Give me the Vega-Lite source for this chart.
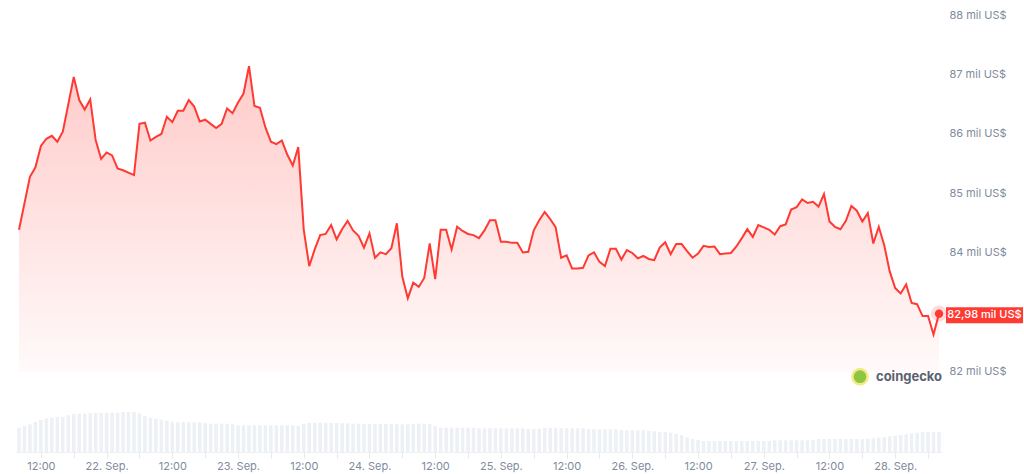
{
  "$schema": "https://vega.github.io/schema/vega-lite/v6.json",
  "width": 926,
  "height": 437,
  "autosize": "none",
  "padding": {"left": 16, "top": 15, "right": 82, "bottom": 22},
  "background": "white",
  "config": {"view": {"stroke": null}, "font": "Inter"},
  "datasets": {
    "price": [
      {"t": "2025-09-21T08:00", "p": 84390}, {"t": "2025-09-21T10:00", "p": 85280}, {"t": "2025-09-21T11:00", "p": 85440}, {"t": "2025-09-21T12:00", "p": 85800}, {"t": "2025-09-21T13:00", "p": 85920}, {"t": "2025-09-21T14:00", "p": 85970}, {"t": "2025-09-21T15:00", "p": 85870}, {"t": "2025-09-21T16:00", "p": 86040}, {"t": "2025-09-21T18:00", "p": 86960}, {"t": "2025-09-21T19:00", "p": 86570}, {"t": "2025-09-21T20:00", "p": 86410}, {"t": "2025-09-21T21:00", "p": 86580}, {"t": "2025-09-21T22:00", "p": 85900}, {"t": "2025-09-21T23:00", "p": 85580},
      {"t": "2025-09-22T00:00", "p": 85690}, {"t": "2025-09-22T01:00", "p": 85640}, {"t": "2025-09-22T02:00", "p": 85420}, {"t": "2025-09-22T03:00", "p": 85390}, {"t": "2025-09-22T05:00", "p": 85310}, {"t": "2025-09-22T06:00", "p": 86170}, {"t": "2025-09-22T07:00", "p": 86190}, {"t": "2025-09-22T08:00", "p": 85890}, {"t": "2025-09-22T09:00", "p": 85950}, {"t": "2025-09-22T10:00", "p": 86000}, {"t": "2025-09-22T11:00", "p": 86290}, {"t": "2025-09-22T12:00", "p": 86200}, {"t": "2025-09-22T13:00", "p": 86390}, {"t": "2025-09-22T14:00", "p": 86390}, {"t": "2025-09-22T15:00", "p": 86570}, {"t": "2025-09-22T16:00", "p": 86460}, {"t": "2025-09-22T17:00", "p": 86210}, {"t": "2025-09-22T18:00", "p": 86240}, {"t": "2025-09-22T19:00", "p": 86170}, {"t": "2025-09-22T20:00", "p": 86100}, {"t": "2025-09-22T21:00", "p": 86170}, {"t": "2025-09-22T22:00", "p": 86430}, {"t": "2025-09-22T23:00", "p": 86350},
      {"t": "2025-09-23T00:00", "p": 86530}, {"t": "2025-09-23T01:00", "p": 86680}, {"t": "2025-09-23T02:00", "p": 87140}, {"t": "2025-09-23T03:00", "p": 86470}, {"t": "2025-09-23T04:00", "p": 86440}, {"t": "2025-09-23T05:00", "p": 86110}, {"t": "2025-09-23T06:00", "p": 85870}, {"t": "2025-09-23T07:00", "p": 85830}, {"t": "2025-09-23T08:00", "p": 85890}, {"t": "2025-09-23T09:00", "p": 85650}, {"t": "2025-09-23T10:00", "p": 85470}, {"t": "2025-09-23T11:00", "p": 85780}, {"t": "2025-09-23T12:00", "p": 84390}, {"t": "2025-09-23T13:00", "p": 83780}, {"t": "2025-09-23T14:00", "p": 84060}, {"t": "2025-09-23T15:00", "p": 84300}, {"t": "2025-09-23T16:00", "p": 84320}, {"t": "2025-09-23T17:00", "p": 84470}, {"t": "2025-09-23T18:00", "p": 84230}, {"t": "2025-09-23T19:00", "p": 84400}, {"t": "2025-09-23T20:00", "p": 84540}, {"t": "2025-09-23T21:00", "p": 84380}, {"t": "2025-09-23T22:00", "p": 84290}, {"t": "2025-09-23T23:00", "p": 84090},
      {"t": "2025-09-24T00:00", "p": 84330}, {"t": "2025-09-24T01:00", "p": 83920}, {"t": "2025-09-24T02:00", "p": 84010}, {"t": "2025-09-24T03:00", "p": 83980}, {"t": "2025-09-24T04:00", "p": 84080}, {"t": "2025-09-24T05:00", "p": 84500}, {"t": "2025-09-24T06:00", "p": 83600}, {"t": "2025-09-24T07:00", "p": 83240}, {"t": "2025-09-24T08:00", "p": 83500}, {"t": "2025-09-24T09:00", "p": 83430}, {"t": "2025-09-24T10:00", "p": 83580}, {"t": "2025-09-24T11:00", "p": 84160}, {"t": "2025-09-24T12:00", "p": 83560}, {"t": "2025-09-24T13:00", "p": 84390}, {"t": "2025-09-24T14:00", "p": 84390}, {"t": "2025-09-24T15:00", "p": 84060}, {"t": "2025-09-24T16:00", "p": 84440}, {"t": "2025-09-24T17:00", "p": 84370}, {"t": "2025-09-24T18:00", "p": 84320}, {"t": "2025-09-24T19:00", "p": 84300}, {"t": "2025-09-24T20:00", "p": 84250}, {"t": "2025-09-24T21:00", "p": 84380}, {"t": "2025-09-24T22:00", "p": 84550}, {"t": "2025-09-24T23:00", "p": 84550},
      {"t": "2025-09-25T00:00", "p": 84190}, {"t": "2025-09-25T01:00", "p": 84190}, {"t": "2025-09-25T02:00", "p": 84170}, {"t": "2025-09-25T03:00", "p": 84170}, {"t": "2025-09-25T04:00", "p": 84010}, {"t": "2025-09-25T05:00", "p": 84020}, {"t": "2025-09-25T06:00", "p": 84380}, {"t": "2025-09-25T07:00", "p": 84550}, {"t": "2025-09-25T08:00", "p": 84690}, {"t": "2025-09-25T09:00", "p": 84570}, {"t": "2025-09-25T10:00", "p": 84430}, {"t": "2025-09-25T11:00", "p": 83920}, {"t": "2025-09-25T12:00", "p": 83960}, {"t": "2025-09-25T13:00", "p": 83740}, {"t": "2025-09-25T14:00", "p": 83740}, {"t": "2025-09-25T15:00", "p": 83750}, {"t": "2025-09-25T16:00", "p": 83960}, {"t": "2025-09-25T17:00", "p": 84010}, {"t": "2025-09-25T18:00", "p": 83850}, {"t": "2025-09-25T19:00", "p": 83780}, {"t": "2025-09-25T20:00", "p": 84070}, {"t": "2025-09-25T21:00", "p": 84070}, {"t": "2025-09-25T22:00", "p": 83890}, {"t": "2025-09-25T23:00", "p": 84050},
      {"t": "2025-09-26T00:00", "p": 84000}, {"t": "2025-09-26T01:00", "p": 83910}, {"t": "2025-09-26T02:00", "p": 83950}, {"t": "2025-09-26T03:00", "p": 83900}, {"t": "2025-09-26T04:00", "p": 83880}, {"t": "2025-09-26T05:00", "p": 84090}, {"t": "2025-09-26T06:00", "p": 84180}, {"t": "2025-09-26T07:00", "p": 83980}, {"t": "2025-09-26T08:00", "p": 84150}, {"t": "2025-09-26T09:00", "p": 84150}, {"t": "2025-09-26T10:00", "p": 84030}, {"t": "2025-09-26T11:00", "p": 83920}, {"t": "2025-09-26T12:00", "p": 83990}, {"t": "2025-09-26T13:00", "p": 84120}, {"t": "2025-09-26T14:00", "p": 84100}, {"t": "2025-09-26T15:00", "p": 84110}, {"t": "2025-09-26T16:00", "p": 83980}, {"t": "2025-09-26T17:00", "p": 83990}, {"t": "2025-09-26T18:00", "p": 84000}, {"t": "2025-09-26T19:00", "p": 84110}, {"t": "2025-09-26T20:00", "p": 84250}, {"t": "2025-09-26T21:00", "p": 84400}, {"t": "2025-09-26T22:00", "p": 84270}, {"t": "2025-09-26T23:00", "p": 84470},
      {"t": "2025-09-27T00:00", "p": 84430}, {"t": "2025-09-27T01:00", "p": 84390}, {"t": "2025-09-27T02:00", "p": 84310}, {"t": "2025-09-27T03:00", "p": 84450}, {"t": "2025-09-27T04:00", "p": 84480}, {"t": "2025-09-27T05:00", "p": 84730}, {"t": "2025-09-27T06:00", "p": 84770}, {"t": "2025-09-27T07:00", "p": 84900}, {"t": "2025-09-27T08:00", "p": 84840}, {"t": "2025-09-27T09:00", "p": 84860}, {"t": "2025-09-27T10:00", "p": 84780}, {"t": "2025-09-27T11:00", "p": 84990}, {"t": "2025-09-27T12:00", "p": 84530}, {"t": "2025-09-27T13:00", "p": 84440}, {"t": "2025-09-27T14:00", "p": 84400}, {"t": "2025-09-27T15:00", "p": 84540}, {"t": "2025-09-27T16:00", "p": 84790}, {"t": "2025-09-27T17:00", "p": 84710}, {"t": "2025-09-27T18:00", "p": 84530}, {"t": "2025-09-27T19:00", "p": 84670}, {"t": "2025-09-27T20:00", "p": 84160}, {"t": "2025-09-27T21:00", "p": 84440}, {"t": "2025-09-27T22:00", "p": 84130}, {"t": "2025-09-27T23:00", "p": 83690},
      {"t": "2025-09-28T00:00", "p": 83410}, {"t": "2025-09-28T01:00", "p": 83320}, {"t": "2025-09-28T02:00", "p": 83470}, {"t": "2025-09-28T03:00", "p": 83160}, {"t": "2025-09-28T04:00", "p": 83140}, {"t": "2025-09-28T05:00", "p": 82940}, {"t": "2025-09-28T06:00", "p": 82940}, {"t": "2025-09-28T07:00", "p": 82630}, {"t": "2025-09-28T08:00", "p": 82980}
    ],
    "volume": [
      {"t": "2025-09-21T08:00", "v": 24.3}, {"t": "2025-09-21T09:00", "v": 25.7}, {"t": "2025-09-21T10:00", "v": 27.7}, {"t": "2025-09-21T11:00", "v": 30}, {"t": "2025-09-21T12:00", "v": 32}, {"t": "2025-09-21T13:00", "v": 33.5}, {"t": "2025-09-21T14:00", "v": 34.3}, {"t": "2025-09-21T15:00", "v": 35}, {"t": "2025-09-21T16:00", "v": 35.3}, {"t": "2025-09-21T17:00", "v": 36.7}, {"t": "2025-09-21T18:00", "v": 38}, {"t": "2025-09-21T19:00", "v": 38.3}, {"t": "2025-09-21T20:00", "v": 38.3}, {"t": "2025-09-21T21:00", "v": 39}, {"t": "2025-09-21T22:00", "v": 39}, {"t": "2025-09-21T23:00", "v": 39},
      {"t": "2025-09-22T00:00", "v": 39.3}, {"t": "2025-09-22T01:00", "v": 39.3}, {"t": "2025-09-22T02:00", "v": 39.3}, {"t": "2025-09-22T03:00", "v": 40}, {"t": "2025-09-22T04:00", "v": 40}, {"t": "2025-09-22T05:00", "v": 40}, {"t": "2025-09-22T06:00", "v": 38.5}, {"t": "2025-09-22T07:00", "v": 36}, {"t": "2025-09-22T08:00", "v": 34.3}, {"t": "2025-09-22T09:00", "v": 33.3}, {"t": "2025-09-22T10:00", "v": 32.3}, {"t": "2025-09-22T11:00", "v": 31.3}, {"t": "2025-09-22T12:00", "v": 30.3}, {"t": "2025-09-22T13:00", "v": 29.7}, {"t": "2025-09-22T14:00", "v": 29.7}, {"t": "2025-09-22T15:00", "v": 29.7}, {"t": "2025-09-22T16:00", "v": 29.7}, {"t": "2025-09-22T17:00", "v": 29.7}, {"t": "2025-09-22T18:00", "v": 29}, {"t": "2025-09-22T19:00", "v": 28.3}, {"t": "2025-09-22T20:00", "v": 28.3}, {"t": "2025-09-22T21:00", "v": 28.3}, {"t": "2025-09-22T22:00", "v": 28.3}, {"t": "2025-09-22T23:00", "v": 27.7},
      {"t": "2025-09-23T00:00", "v": 26.7}, {"t": "2025-09-23T01:00", "v": 26.7}, {"t": "2025-09-23T02:00", "v": 26.7}, {"t": "2025-09-23T03:00", "v": 26.7}, {"t": "2025-09-23T04:00", "v": 26.7}, {"t": "2025-09-23T05:00", "v": 26.7}, {"t": "2025-09-23T06:00", "v": 26.7}, {"t": "2025-09-23T07:00", "v": 26.7}, {"t": "2025-09-23T08:00", "v": 26.7}, {"t": "2025-09-23T09:00", "v": 26.7}, {"t": "2025-09-23T10:00", "v": 26.7}, {"t": "2025-09-23T11:00", "v": 26}, {"t": "2025-09-23T12:00", "v": 28.3}, {"t": "2025-09-23T13:00", "v": 29}, {"t": "2025-09-23T14:00", "v": 29.3}, {"t": "2025-09-23T15:00", "v": 29.3}, {"t": "2025-09-23T16:00", "v": 29.3}, {"t": "2025-09-23T17:00", "v": 29}, {"t": "2025-09-23T18:00", "v": 29}, {"t": "2025-09-23T19:00", "v": 28.7}, {"t": "2025-09-23T20:00", "v": 28.7}, {"t": "2025-09-23T21:00", "v": 28.3}, {"t": "2025-09-23T22:00", "v": 28.3}, {"t": "2025-09-23T23:00", "v": 28},
      {"t": "2025-09-24T00:00", "v": 28}, {"t": "2025-09-24T01:00", "v": 28}, {"t": "2025-09-24T02:00", "v": 28}, {"t": "2025-09-24T03:00", "v": 28}, {"t": "2025-09-24T04:00", "v": 28}, {"t": "2025-09-24T05:00", "v": 27.7}, {"t": "2025-09-24T06:00", "v": 27.7}, {"t": "2025-09-24T07:00", "v": 27.7}, {"t": "2025-09-24T08:00", "v": 28.3}, {"t": "2025-09-24T09:00", "v": 28.3}, {"t": "2025-09-24T10:00", "v": 28.3}, {"t": "2025-09-24T11:00", "v": 27.7}, {"t": "2025-09-24T12:00", "v": 25.7}, {"t": "2025-09-24T13:00", "v": 24.3}, {"t": "2025-09-24T14:00", "v": 24.3}, {"t": "2025-09-24T15:00", "v": 24.3}, {"t": "2025-09-24T16:00", "v": 24.3}, {"t": "2025-09-24T17:00", "v": 24.3}, {"t": "2025-09-24T18:00", "v": 24.3}, {"t": "2025-09-24T19:00", "v": 24.3}, {"t": "2025-09-24T20:00", "v": 23.7}, {"t": "2025-09-24T21:00", "v": 23.7}, {"t": "2025-09-24T22:00", "v": 23.7}, {"t": "2025-09-24T23:00", "v": 23.7},
      {"t": "2025-09-25T00:00", "v": 23.7}, {"t": "2025-09-25T01:00", "v": 23.7}, {"t": "2025-09-25T02:00", "v": 23.7}, {"t": "2025-09-25T03:00", "v": 23.7}, {"t": "2025-09-25T04:00", "v": 23.7}, {"t": "2025-09-25T05:00", "v": 23}, {"t": "2025-09-25T06:00", "v": 23}, {"t": "2025-09-25T07:00", "v": 23}, {"t": "2025-09-25T08:00", "v": 24}, {"t": "2025-09-25T09:00", "v": 24.3}, {"t": "2025-09-25T10:00", "v": 24.3}, {"t": "2025-09-25T11:00", "v": 23.7}, {"t": "2025-09-25T12:00", "v": 23.7}, {"t": "2025-09-25T13:00", "v": 23.7}, {"t": "2025-09-25T14:00", "v": 23.7}, {"t": "2025-09-25T15:00", "v": 23.7}, {"t": "2025-09-25T16:00", "v": 23}, {"t": "2025-09-25T17:00", "v": 22.7}, {"t": "2025-09-25T18:00", "v": 22.7}, {"t": "2025-09-25T19:00", "v": 22.7}, {"t": "2025-09-25T20:00", "v": 22.7}, {"t": "2025-09-25T21:00", "v": 22.7}, {"t": "2025-09-25T22:00", "v": 22}, {"t": "2025-09-25T23:00", "v": 21.7},
      {"t": "2025-09-26T00:00", "v": 21.7}, {"t": "2025-09-26T01:00", "v": 21.7}, {"t": "2025-09-26T02:00", "v": 21.7}, {"t": "2025-09-26T03:00", "v": 21.3}, {"t": "2025-09-26T04:00", "v": 20.7}, {"t": "2025-09-26T05:00", "v": 20.3}, {"t": "2025-09-26T06:00", "v": 20}, {"t": "2025-09-26T07:00", "v": 19.3}, {"t": "2025-09-26T08:00", "v": 18}, {"t": "2025-09-26T09:00", "v": 16.7}, {"t": "2025-09-26T10:00", "v": 14.5}, {"t": "2025-09-26T11:00", "v": 13}, {"t": "2025-09-26T12:00", "v": 12}, {"t": "2025-09-26T13:00", "v": 11}, {"t": "2025-09-26T14:00", "v": 11}, {"t": "2025-09-26T15:00", "v": 11}, {"t": "2025-09-26T16:00", "v": 11}, {"t": "2025-09-26T17:00", "v": 11}, {"t": "2025-09-26T18:00", "v": 11}, {"t": "2025-09-26T19:00", "v": 11}, {"t": "2025-09-26T20:00", "v": 11}, {"t": "2025-09-26T21:00", "v": 11}, {"t": "2025-09-26T22:00", "v": 11}, {"t": "2025-09-26T23:00", "v": 11},
      {"t": "2025-09-27T00:00", "v": 11}, {"t": "2025-09-27T01:00", "v": 11}, {"t": "2025-09-27T02:00", "v": 11.7}, {"t": "2025-09-27T03:00", "v": 11.7}, {"t": "2025-09-27T04:00", "v": 11.7}, {"t": "2025-09-27T05:00", "v": 11.7}, {"t": "2025-09-27T06:00", "v": 11.7}, {"t": "2025-09-27T07:00", "v": 11.7}, {"t": "2025-09-27T08:00", "v": 11.7}, {"t": "2025-09-27T09:00", "v": 12.3}, {"t": "2025-09-27T10:00", "v": 13}, {"t": "2025-09-27T11:00", "v": 13}, {"t": "2025-09-27T12:00", "v": 13}, {"t": "2025-09-27T13:00", "v": 13}, {"t": "2025-09-27T14:00", "v": 13}, {"t": "2025-09-27T15:00", "v": 13}, {"t": "2025-09-27T16:00", "v": 13}, {"t": "2025-09-27T17:00", "v": 13}, {"t": "2025-09-27T18:00", "v": 13}, {"t": "2025-09-27T19:00", "v": 13.3}, {"t": "2025-09-27T20:00", "v": 13.7}, {"t": "2025-09-27T21:00", "v": 14.3}, {"t": "2025-09-27T22:00", "v": 15}, {"t": "2025-09-27T23:00", "v": 15.7},
      {"t": "2025-09-28T00:00", "v": 16.3}, {"t": "2025-09-28T01:00", "v": 17}, {"t": "2025-09-28T02:00", "v": 17.7}, {"t": "2025-09-28T03:00", "v": 18.7}, {"t": "2025-09-28T04:00", "v": 19.3}, {"t": "2025-09-28T05:00", "v": 20}, {"t": "2025-09-28T06:00", "v": 20}, {"t": "2025-09-28T07:00", "v": 20.3}, {"t": "2025-09-28T08:00", "v": 20.3}
    ]
  },
  "encoding": {
    "x": {
      "field": "t",
      "type": "temporal",
      "scale": {"padding": 3},
      "axis": {
        "title": null,
        "grid": false,
        "labelExpr": "timeFormat(datum.value, '%H') == '00' ? timeFormat(datum.value, '%d. %b.') : timeFormat(datum.value, '%H:%M')",
        "labelColor": "#808a9d",
        "labelFontSize": 11,
        "labelFlush": false,
        "tickColor": "#e6e9ee",
        "tickSize": 6,
        "domainColor": "#eef0f3"
      }
    }
  },
  "layer": [
    {
      "data": {"name": "volume"},
      "mark": {"type": "bar", "size": 3.5, "color": "#edf0f4"},
      "encoding": {
        "y": {"field": "v", "type": "quantitative", "scale": {"domain": [0, 437], "nice": false}, "axis": null}
      }
    },
    {
      "data": {"name": "price"},
      "encoding": {
        "y": {
          "field": "p",
          "type": "quantitative",
          "scale": {"domain": [80655, 88000], "zero": false, "nice": false},
          "axis": {
            "orient": "right",
            "title": null,
            "values": [82000, 83000, 84000, 85000, 86000, 87000, 88000],
            "labelExpr": "datum.value == 83000 ? '' : (datum.value / 1000) + ' mil US\u0024'",
            "labelColor": "#808a9d",
            "labelFontSize": 11,
            "labelPadding": 7,
            "ticks": false,
            "domain": false,
            "gridColor": "#000000",
            "gridOpacity": 0.045
          }
        }
      },
      "layer": [
        {
          "mark": {
            "type": "area",
            "color": {
              "gradient": "linear",
              "x1": 0, "y1": 0, "x2": 0, "y2": 1,
              "stops": [
                {"offset": 0, "color": "#ffcbc9"},
                {"offset": 1, "color": "#fffafa"}
              ]
            }
          },
          "encoding": {"y2": {"datum": 82000}}
        },
        {"mark": {"type": "line", "color": "#ff3a33", "strokeWidth": 2}},
        {
          "transform": [
            {"window": [{"op": "row_number", "as": "rn"}], "sort": [{"field": "t", "order": "descending"}]},
            {"filter": "datum.rn == 1"}
          ],
          "layer": [
            {"mark": {"type": "point", "filled": true, "size": 260, "color": "#ff3a33", "opacity": 0.18}},
            {"mark": {"type": "point", "filled": true, "size": 70, "color": "#ff3a33", "opacity": 1}},
            {
              "mark": {"type": "rule", "color": "#ff3a33", "strokeWidth": 16, "xOffset": 7, "x2Offset": 84, "yOffset": 1.5},
              "encoding": {"x2": {"field": "t"}}
            },
            {"mark": {"type": "text", "text": "82,98 mil US\u0024", "xOffset": 45.5, "yOffset": 1.5, "color": "#ffffff", "fontSize": 11, "fontWeight": 500, "align": "center", "baseline": "middle"}},
            {"mark": {"type": "point", "filled": true, "size": 230, "color": "#8dc63f", "stroke": "#f4e98a", "strokeWidth": 2.5, "opacity": 1, "xOffset": -79, "yOffset": 63}},
            {"mark": {"type": "text", "text": "coingecko", "color": "#5b6270", "fontSize": 13, "fontWeight": 700, "align": "left", "baseline": "middle", "xOffset": -63, "yOffset": 63}}
          ]
        }
      ]
    }
  ],
  "resolve": {"scale": {"y": "independent"}}
}
